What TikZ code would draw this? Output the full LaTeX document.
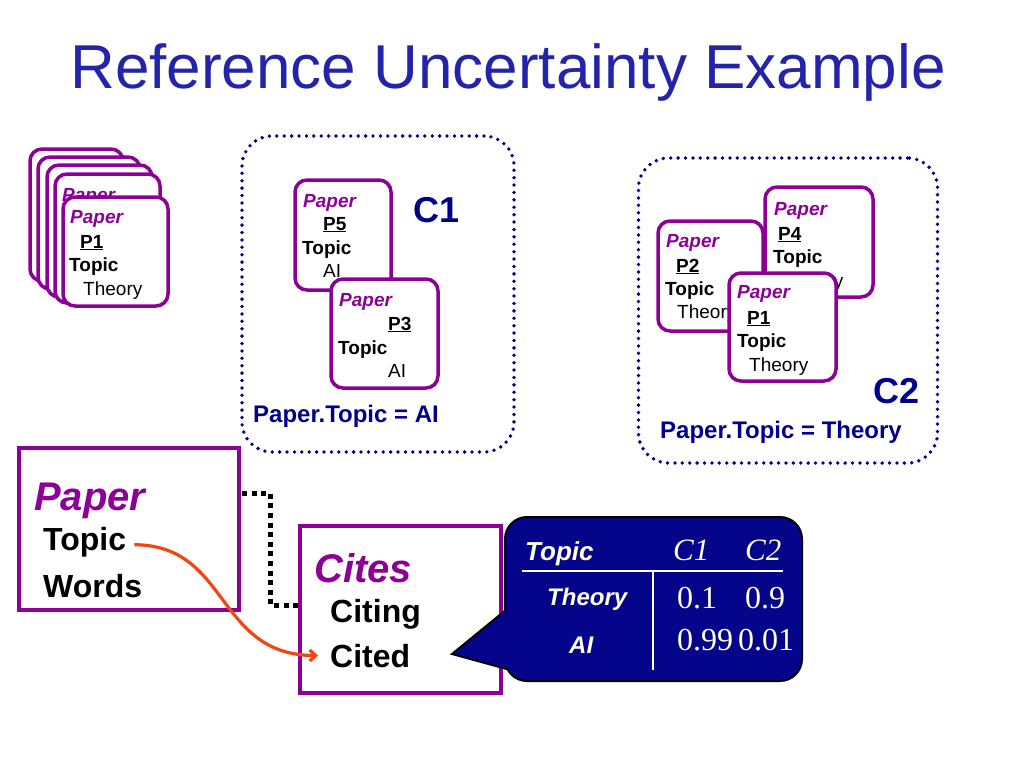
\documentclass[tikz,border=0pt]{standalone}
\usepackage{fontspec}
\setmainfont{Liberation Sans}
\newfontfamily\timesf{Liberation Serif}
\usetikzlibrary{arrows.meta,calc}
\definecolor{titleblue}{RGB}{36,36,170}
\definecolor{navy}{RGB}{0,0,140}
\definecolor{purp}{RGB}{140,0,150}
\definecolor{boxblue}{RGB}{5,5,140}
\definecolor{cream}{RGB}{255,255,225}
\definecolor{arrowred}{RGB}{240,70,20}
\newcommand\cardbox[5]{\node[card, minimum width={#4-#2}, minimum height={#5-#3}] (#1) at ({(#2+#4)/2},{(#3+#5)/2}) {};}
\begin{document}
\begin{tikzpicture}[x=1pt,y=-1pt,
  card/.style={draw=purp, line width=3.5, fill=white, rounded corners=12, inner sep=0, outer sep=0},
  dotbox/.style={draw=navy, line width=3.8, dash pattern=on 0pt off 7.4pt, line cap=round, rounded corners=30, inner sep=0, outer sep=0},
  classbox/.style={draw=purp, line width=4, fill=white, inner sep=0, outer sep=0},
  t/.style={inner sep=0, anchor=base west},
  cpaper/.style={t, text=purp, font=\fontsize{19}{22}\selectfont\bfseries\itshape},
  cbold/.style={t, font=\fontsize{19}{22}\selectfont\bfseries},
  cid/.style={t, font=\fontsize{19}{22}\selectfont\bfseries},
  cval/.style={t, font=\fontsize{19}{22}\selectfont},
  clabel/.style={t, text=navy, font=\fontsize{36}{40}\selectfont\bfseries},
  cnote/.style={t, text=navy, font=\fontsize{24}{28}\selectfont\bfseries},
  cname/.style={t, text=purp, font=\fontsize{40}{44}\selectfont\bfseries\itshape},
  cattr/.style={t, font=\fontsize{32}{36}\selectfont\bfseries},
  thead/.style={t, text=cream, font=\fontsize{26}{30}\selectfont\bfseries\itshape},
  trow/.style={t, text=cream, font=\fontsize{24}{28}\selectfont\bfseries\itshape},
  tnum/.style={t, text=cream, font=\fontsize{32}{36}\selectfont\timesf},
  tcl/.style={t, text=cream, font=\fontsize{31}{36}\selectfont\timesf\itshape},
  blackdots/.style={draw=black, line width=5, dash pattern=on 5pt off 4.6pt},
  redarrow/.style={draw=arrowred, line width=3.2, -{Straight Barb[length=6pt,width=11pt]}},
]
\useasboundingbox (0,0) rectangle (1024,768);

% title
\node[anchor=base, inner sep=0, text=titleblue, font=\fontsize{62}{70}\selectfont] (title) at (508,88) {Reference Uncertainty Example};

% stacked cards
\cardbox{s1}{30}{149}{123}{281}
\cardbox{s2}{38}{157}{140}{289}
\cardbox{s3}{47}{165}{152}{297}
\cardbox{s4}{55}{174}{160}{303}
\node[cpaper] (s4a) at (62,201) {Paper};
\cardbox{s5}{63}{197}{168}{306}
\node[cpaper] (s5a) at (70,223) {Paper};
\node[cid] (s5b) at (80,248) {\underline{P1}};
\node[cbold] (s5c) at (69,271) {Topic};
\node[cval] (s5d) at (83,295) {Theory};

% C1 cluster
\node[dotbox, minimum width=272, minimum height=316] (c1box) at (378,294) {};
\cardbox{p5}{295}{180}{391}{290}
\node[cpaper] (p5a) at (303,207) {Paper};
\node[cid] (p5b) at (323,230) {\underline{P5}};
\node[cbold] (p5c) at (302,254) {Topic};
\node[cval] (p5d) at (323,277) {AI};
\cardbox{p3}{331}{279}{438}{388}
\node[cpaper] (p3a) at (339,306) {Paper};
\node[cid] (p3b) at (388,330) {\underline{P3}};
\node[cbold] (p3c) at (338,354) {Topic};
\node[cval] (p3d) at (388,377) {AI};
\node[clabel] (c1lab) at (413,222) {C1};
\node[cnote] (c1note) at (253,422) {Paper.Topic = AI};

% C2 cluster
\node[dotbox, minimum width=299, minimum height=305] (c2box) at (788,310.5) {};
\cardbox{p4}{765}{187}{873}{297}
\node[cpaper] (p4a) at (774,215) {Paper};
\node[cid] (p4b) at (778,240) {\underline{P4}};
\node[cbold] (p4c) at (773,263) {Topic};
\node[cval] (p4d) at (784,287) {Theory};
\cardbox{p2}{658}{221}{763}{331}
\node[cpaper] (p2a) at (666,247) {Paper};
\node[cid] (p2b) at (676,272) {\underline{P2}};
\node[cbold] (p2c) at (665,295) {Topic};
\node[cval] (p2d) at (677,318) {Theory};
\cardbox{p1}{729}{273}{836}{381}
\node[cpaper] (p1a) at (737,298) {Paper};
\node[cid] (p1b) at (747,324) {\underline{P1}};
\node[cbold] (p1c) at (737,347) {Topic};
\node[cval] (p1d) at (749,371) {Theory};
\node[clabel] (c2lab) at (873,403) {C2};
\node[cnote] (c2note) at (660,438) {Paper.Topic = Theory};

% class boxes
\node[classbox, minimum width=220, minimum height=162] (paperbox) at (129,529) {};
\node[cname] (pname) at (34,510) {Paper};
\node[cattr] (ptopic) at (43,550) {Topic};
\node[cattr] (pwords) at (43,597) {Words};

\node[classbox, minimum width=201, minimum height=167] (citesbox) at (400.5,609.5) {};
\node[cname] (cname) at (314,582) {Cites};
\node[cattr] (citing) at (330,622) {Citing};
\node[cattr] (cited) at (330,667) {Cited};

% dotted link
\draw[blackdots] ($(paperbox.north east)+(3,45)$) -- ++(28,0) |- ($(citesbox.north west)+(0,79)$);

% red arrow
\draw[redarrow] ($(ptopic.east)+(8,3)$) .. controls (230,545) and (215,655) .. ($(cited.west)+(-12,0)$);

% callout
\node[draw=black, line width=2, fill=boxblue, rounded corners=22, minimum width=297, minimum height=164, inner sep=0, outer sep=0] (cpt) at (653.5,599) {};
\coordinate (tip) at (452,654);
\fill[boxblue] (tip) -- (510,606.5) -- (510,670) -- cycle;
\draw[black, line width=2, line join=miter] (506,609.8) -- (tip) -- (508,669.4);

\draw[cream, line width=2.5] (522,571) -- (783,571);
\draw[cream, line width=2.5] (653,571) -- (653,670);
\node[thead] (th1) at (525,560) {Topic};
\node[tcl] (th2) at (673,560) {C1};
\node[tcl] (th3) at (745,560) {C2};
\node[trow] (r1) at (547,605) {Theory};
\node[tnum] (r1a) at (677,608) {0.1};
\node[tnum] (r1b) at (745,608) {0.9};
\node[trow] (r2) at (569,653) {AI};
\node[tnum] (r2a) at (677,650) {0.99};
\node[tnum] (r2b) at (738,650) {0.01};
\end{tikzpicture}
\end{document}
